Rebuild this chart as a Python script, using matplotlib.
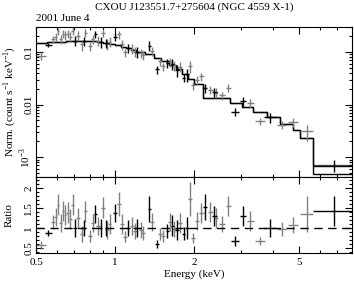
import numpy as np
import matplotlib
matplotlib.use("Agg")
from matplotlib import pyplot as plt
from matplotlib.ticker import FixedLocator, FixedFormatter, NullFormatter

plt.rcParams['font.family'] = ['Liberation Serif', 'DejaVu Serif']
plt.rcParams['font.size'] = 8
plt.rcParams['mathtext.fontset'] = 'custom'
plt.rcParams['mathtext.rm'] = 'Liberation Serif'

# model (step function): bin edges in keV, counts/s/keV
model_edges = [0.5, 0.55, 0.6, 0.65, 0.7, 0.75, 0.8, 0.85, 0.9, 0.95,
               1.0, 1.05, 1.1, 1.15, 1.2, 1.3, 1.4, 1.5, 1.6, 1.7,
               1.8, 1.9, 2.0, 2.16, 2.74, 3.04, 3.35, 3.78, 4.24, 4.75,
               5.05, 5.66, 7.96]
model_black = [0.148, 0.153, 0.158, 0.162, 0.164, 0.164, 0.161, 0.156, 0.150, 0.143,
               0.135, 0.127, 0.119, 0.111, 0.101, 0.090, 0.078, 0.067, 0.057, 0.047,
               0.038, 0.031, 0.025, 0.0136, 0.0107, 0.0091, 0.0072, 0.0057, 0.0043, 0.0033,
               0.0023, 0.00049]
model_gray_last = 0.00071

# gray data set: energy, half bin width, data/model ratio, ratio error
gray_e = [0.522, 0.578, 0.594, 0.607, 0.620, 0.633, 0.646, 0.660, 0.675, 0.690,
          0.722, 0.745, 0.770, 0.800, 0.822, 0.860, 0.900, 0.930, 0.955, 1.030,
          1.060, 1.090, 1.160, 1.190, 1.250, 1.280, 1.380, 1.480, 1.520, 1.620,
          1.680, 1.760, 1.930, 1.980, 2.050, 2.130, 2.300, 2.420, 2.550, 2.690,
          3.260, 3.560, 4.300, 4.750, 5.350]
gray_de = [0.022, 0.010, 0.008, 0.007, 0.007, 0.007, 0.007, 0.007, 0.008, 0.008,
           0.010, 0.011, 0.012, 0.013, 0.012, 0.014, 0.015, 0.014, 0.012, 0.018,
           0.018, 0.020, 0.022, 0.020, 0.022, 0.022, 0.025, 0.028, 0.028, 0.030,
           0.030, 0.030, 0.030, 0.030, 0.035, 0.040, 0.050, 0.050, 0.060, 0.060,
           0.100, 0.170, 0.180, 0.200, 0.300]
gray_ratio = [0.58, 1.15, 1.28, 1.58, 1.12, 1.42, 1.32, 1.38, 1.22, 1.58,
              1.25, 0.85, 1.42, 0.80, 1.12, 1.05, 1.50, 0.95, 1.10, 1.60,
              1.10, 0.78, 1.05, 0.92, 0.95, 0.88, 1.15, 0.85, 0.80, 1.15,
              0.98, 1.12, 1.72, 0.75, 1.18, 1.38, 1.40, 1.25, 1.10, 1.55,
              1.18, 0.67, 0.97, 1.08, 1.35]
gray_rerr = [0.10, 0.18, 0.22, 0.26, 0.22, 0.24, 0.24, 0.26, 0.25, 0.26,
             0.26, 0.20, 0.26, 0.16, 0.22, 0.22, 0.26, 0.22, 0.24, 0.30,
             0.25, 0.14, 0.22, 0.20, 0.20, 0.18, 0.22, 0.15, 0.14, 0.22,
             0.20, 0.25, 0.42, 0.13, 0.22, 0.25, 0.25, 0.25, 0.20, 0.25,
             0.25, 0.10, 0.18, 0.20, 0.45]

# black data set
black_e = [0.557, 0.705, 0.760, 0.840, 0.880, 0.925, 1.000, 1.120, 1.210, 1.350,
           1.440, 1.580, 1.650, 1.720, 1.820, 1.880, 2.200, 2.380, 2.860, 3.070,
           3.880, 6.810]
black_de = [0.018, 0.012, 0.012, 0.012, 0.012, 0.012, 0.015, 0.020, 0.020, 0.020,
            0.025, 0.025, 0.025, 0.025, 0.030, 0.030, 0.040, 0.050, 0.100, 0.080,
            0.200, 1.150]
black_ratio = [0.88, 1.00, 1.00, 1.35, 1.00, 1.00, 1.38, 1.00, 1.00, 1.48,
               0.60, 0.92, 1.06, 0.95, 0.86, 1.00, 1.52, 1.30, 0.68, 1.30,
               1.00, 1.42]
black_rerr = [0.08, 0.22, 0.20, 0.22, 0.22, 0.20, 0.22, 0.20, 0.22, 0.32,
              0.10, 0.18, 0.26, 0.25, 0.16, 0.28, 0.32, 0.25, 0.12, 0.25,
              0.22, 0.37]

model_gray = model_black[:-1] + [model_gray_last]


def model_at(e, vals):
    idx = np.searchsorted(model_edges, e) - 1
    return np.array(vals)[idx]


fig = plt.figure(figsize=(3.54, 2.81), dpi=100)
ax1 = fig.add_axes([0.1017, 0.370, 0.8927, 0.534])
ax2 = fig.add_axes([0.1017, 0.0996, 0.8927, 0.2704], sharex=ax1)

gcol = '#808080'
for e, de, r, re, vals, col in [(gray_e, gray_de, gray_ratio, gray_rerr, model_gray, gcol),
                                 (black_e, black_de, black_ratio, black_rerr, model_black, 'k')]:
    e = np.array(e)
    m = model_at(e, vals)
    ax1.errorbar(e, np.array(r) * m, xerr=de, yerr=np.array(re) * m,
                 fmt='none', ecolor=col, elinewidth=1, capsize=0)
    ax2.errorbar(e, r, xerr=de, yerr=re, fmt='none', ecolor=col,
                 elinewidth=1, capsize=0)

ax1.stairs(model_gray, model_edges, baseline=None, color='#555555', lw=1)
ax1.stairs(model_black, model_edges, baseline=None, color='k', lw=1)
ax2.axhline(1.0, color='k', lw=1, ls=(0, (6, 4)))

ax1.set_xscale('log')
ax1.set_yscale('log')
ax1.set_xlim(0.5, 7.96)
ax1.set_ylim(4.2e-4, 0.30)
ax2.set_ylim(0.375, 2.27)

xmaj = [0.5, 1, 2, 5]
xmin = [0.6, 0.7, 0.8, 0.9, 3, 4, 6, 7]
for ax in (ax1, ax2):
    ax.xaxis.set_major_locator(FixedLocator(xmaj))
    ax.xaxis.set_minor_locator(FixedLocator(xmin))
    ax.xaxis.set_minor_formatter(NullFormatter())
    ax.tick_params(which='both', direction='in', top=True, right=True, width=0.8)
    ax.tick_params(which='major', length=5)
    ax.tick_params(which='minor', length=2.5)
    ax.tick_params(axis='y', pad=2)
ax2.xaxis.set_major_formatter(FixedFormatter(['0.5', '1', '2', '5']))
ax1.tick_params(labelbottom=False)

ax1.yaxis.set_major_locator(FixedLocator([1e-3, 0.01, 0.1]))
ax1.yaxis.set_major_formatter(FixedFormatter([r'10$^{-3}$', '0.01', '0.1']))
ymin = [k * 10.0 ** p for p in (-4, -3, -2, -1) for k in range(2, 10)]
ax1.yaxis.set_minor_locator(FixedLocator(ymin))
ax1.yaxis.set_minor_formatter(NullFormatter())

ax2.yaxis.set_major_locator(FixedLocator([0.5, 1, 1.5, 2]))
ax2.yaxis.set_major_formatter(FixedFormatter(['0.5', '1', '1.5', '2']))
ax2.yaxis.set_minor_locator(FixedLocator(np.arange(0.4, 2.3, 0.1)))

for ax in (ax1, ax2):
    for lab in ax.get_yticklabels():
        lab.set_rotation(90)
        lab.set_va('center')
    for s in ax.spines.values():
        s.set_linewidth(0.8)

ax1.set_ylabel(r'Norm. (count s$^{-1}$ keV$^{-1}$)', va='center')
ax2.set_ylabel('Ratio', va='center')
ax1.yaxis.set_label_coords(-0.085, 0.5)
ax2.yaxis.set_label_coords(-0.085, 0.5)
ax2.set_xlabel('Energy (keV)', labelpad=2)
fig.text(0.55, 0.975, 'CXOU J123551.7+275604 (NGC 4559 X-1)', ha='center', va='center')
fig.text(0.1017, 0.935, '2001 June 4', ha='left', va='center')

fig.savefig('out.png', dpi=100)
